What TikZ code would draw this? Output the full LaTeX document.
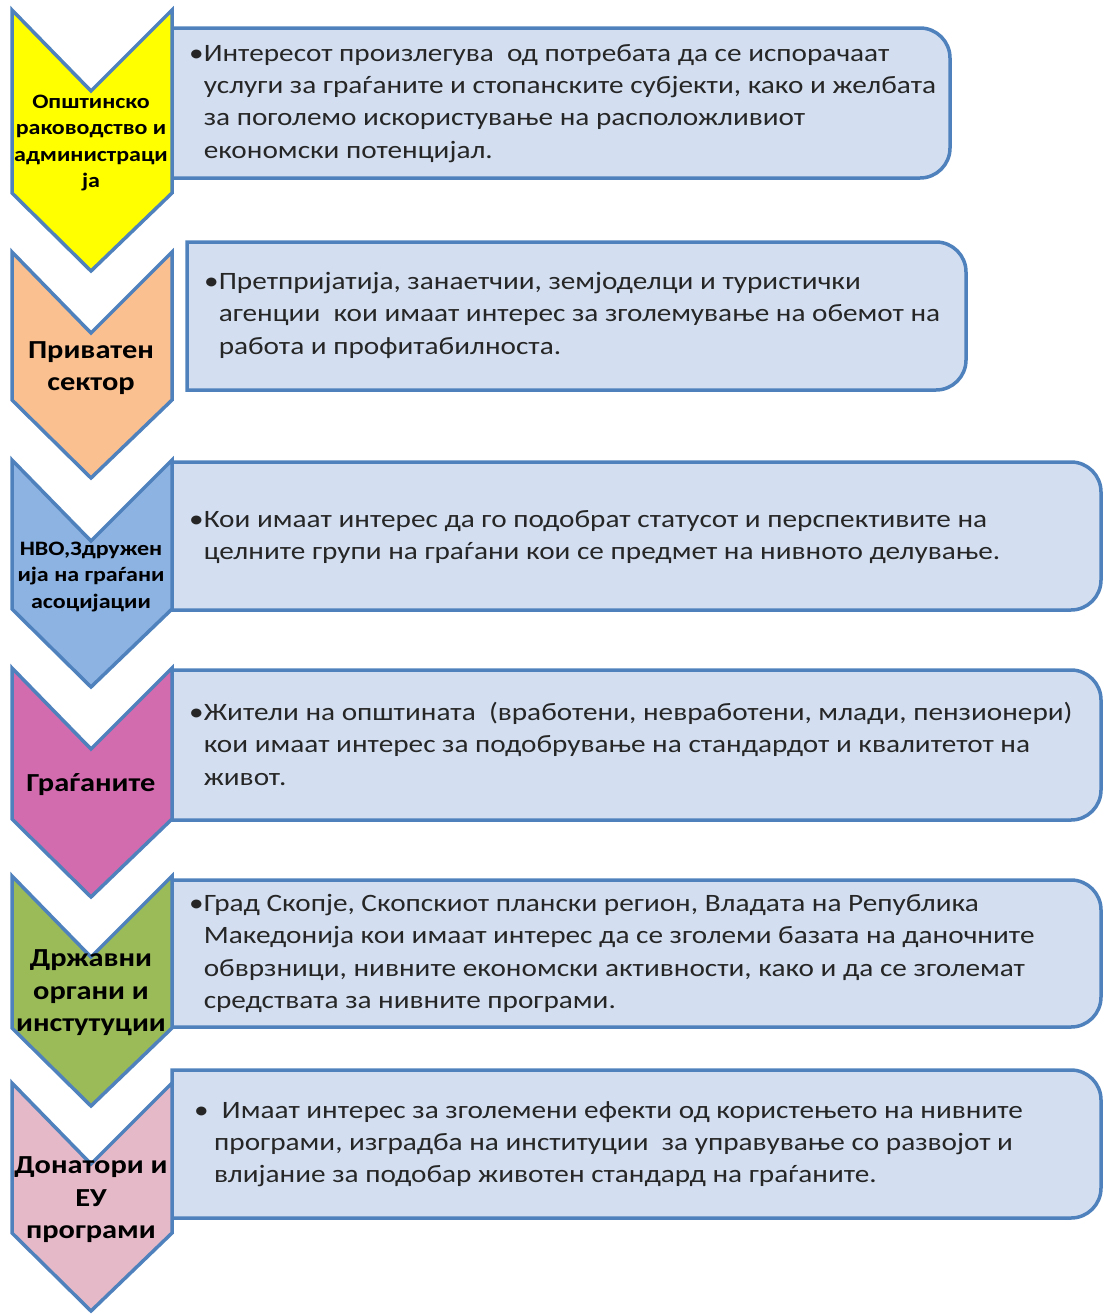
\documentclass[tikz,border=0pt]{standalone}
\usepackage{fontspec}
\setmainfont[FakeStretch=1.17]{Carlito}
\definecolor{frameblue}{HTML}{4F81BD}
\definecolor{boxfill}{HTML}{D3DFF1}
\definecolor{bodytext}{HTML}{262626}
\definecolor{chevyellow}{HTML}{FFFF00}
\definecolor{chevorange}{HTML}{FAC090}
\definecolor{chevblue}{HTML}{8DB3E2}
\definecolor{chevmagenta}{HTML}{D36BAF}
\definecolor{chevgreen}{HTML}{9BBB59}
\definecolor{chevpink}{HTML}{E6B9C8}

\begin{document}
\begin{tikzpicture}[
  x=1pt, y=-1pt,
  chevron/.style={draw=frameblue,line width=3.5pt,line join=miter},
  infobox/.style={draw=frameblue,fill=boxfill,line width=3.5pt},
  infotext/.style={anchor=north west,inner sep=0pt,align=left,text=bodytext,
    font=\fontsize{25}{32.3}\selectfont},
  label/.style={inner sep=0pt,align=center,text=black,font=\bfseries\fontsize{26}{32.5}\selectfont},
  smalllabel/.style={label,font=\bfseries\fontsize{20.5}{26.5}\selectfont}
  ]

\useasboundingbox (0,0) rectangle (1103,1315);

\foreach \l/\t/\r/\b in {172/28/950/178, 187/242/966/390, 172/462/1101/610,
    172/670/1101/820, 172/880/1101/1027, 172/1070/1101/1218}
  \draw[infobox] (\l,\t) -- (\r-30,\t) arc[start angle=-90,end angle=0,radius=30]
    -- (\r,\b-30) arc[start angle=0,end angle=90,radius=30] -- (\l,\b) -- cycle;

\foreach \T/\B/\col in {10/193/chevyellow, 252/400/chevorange, 460/609/chevblue,
    668/819/chevmagenta, 876/1028/chevgreen, 1083/1233/chevpink}
  \draw[chevron,fill=\col] (12,\T) -- (91,\T+81) -- (172,\T) -- (172,\B)
    -- (91,\B+78) -- (12,\B) -- cycle;

\node[smalllabel] (opstina) at (91,143) {Општинско\\раководство и\\администраци\\ја};
\node[label] (privaten) at (91,368) {Приватен\\сектор};
\node[smalllabel] (nvo) at (91,577) {НВО,Здружен\\ија на граѓани\\асоцијации};
\node[label] (gragjani) at (91,785) {Граѓаните};
\node[label] (drzavni) at (91,993) {Државни\\органи и\\инстутуции};
\node[label] (donatori) at (91,1200) {Донатори и\\ЕУ\\програми};

\node[infotext] (opstinatext) at (189,44) {•Интересот произлегува\ \ од потребата да се испорачаат\\
  \phantom{•}услуги за граѓаните и стопанските субјекти, како и желбата\\
  \phantom{•}за поголемо искористување на расположливиот\\
  \phantom{•}економски потенцијал.};
\node[infotext] (privatentext) at (204,272) {•Претпријатија, занаетчии, земјоделци и туристички\\
  \phantom{•}агенции\ \ кои имаат интерес за зголемување на обемот на\\
  \phantom{•}работа и профитабилноста.};
\node[infotext] (nvotext) at (189,510) {•Кои имаат интерес да го подобрат статусот и перспективите на\\
  \phantom{•}целните групи на граѓани кои се предмет на нивното делување.};
\node[infotext] (gragjanitext) at (189,702) {•Жители на општината\ \ (вработени, невработени, млади, пензионери)\\
  \phantom{•}кои имаат интерес за подобрување на стандардот и квалитетот на\\
  \phantom{•}живот.};
\node[infotext] (drzavnitext) at (189,894) {•Град Скопје, Скопскиот плански регион, Владата на Република\\
  \phantom{•}Македонија кои имаат интерес да се зголеми базата на даночните\\
  \phantom{•}обврзници, нивните економски активности, како и да се зголемат\\
  \phantom{•}средствата за нивните програми.};
\node[infotext] (donatoritext) at (194,1101) {•\ \ Имаат интерес за зголемени ефекти од користењето на нивните\\
  \hspace*{20pt}програми, изградба на институции\ \ за управување со развојот и\\
  \hspace*{20pt}влијание за подобар животен стандард на граѓаните.};

\end{tikzpicture}
\end{document}
